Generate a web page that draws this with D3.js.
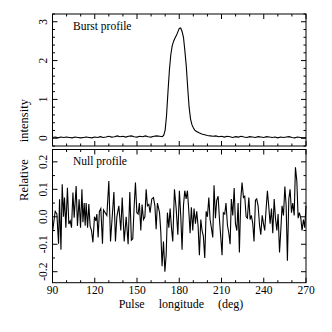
<!DOCTYPE html>
<html><head><meta charset="utf-8">
<script src="https://cdn.jsdelivr.net/npm/d3@7"></script>
<style>body{margin:0;background:#fff}svg{display:block}text{font-family:"Liberation Serif","Times New Roman",serif;fill:#000}</style>
</head><body><svg id="c" width="332" height="332"></svg>
<script>
// ---- data ----
const burstLon = [90,92,94,96,98,100,102,104,106,108,110,112,114,116,118,120,122,124,126,128,130,132,134,136,138,140,142,144,146,148,150,152,154,156,158,160,162,164,166,168,169,170,171,172,173,174,175,176,177,178,179,180,181,182,183,184,185,186,187,188,189,190,191,192,194,196,198,200,202,204,206,208,210,212,214,216,218,220,222,224,226,228,230,232,234,236,238,240,242,244,246,248,250,252,254,256,258,260,262,264,266,268,270];
const burstVal = [0.02,0.03,0.01,0.03,0.02,0.03,0.02,0.01,0.03,0.02,0.01,0.02,0.03,0.02,0.01,0.03,0.02,0.04,0.02,0.03,0.05,0.03,0.04,0.06,0.04,0.05,0.03,0.05,0.06,0.04,0.03,0.05,0.04,0.06,0.04,0.03,0.05,0.06,0.05,0.04,0.08,0.21,0.6,1.2,1.75,2.15,2.38,2.5,2.58,2.65,2.74,2.83,2.84,2.75,2.6,2.25,1.85,1.3,0.8,0.5,0.35,0.27,0.21,0.18,0.14,0.11,0.09,0.07,0.06,0.05,0.06,0.04,0.05,0.03,0.05,0.04,0.02,0.04,0.03,0.05,0.03,0.02,0.04,0.03,0.02,0.04,0.03,0.02,0.04,0.03,0.02,0.03,0.01,0.03,0.02,0.03,0.04,0.02,0.01,0.03,0.02,0.01,0.02];
const nullLon = [90,91.9,93.1,94.3,95,96,96.9,97.8,98.5,99.5,100.6,101.6,102.6,103.5,104.5,105.4,106.8,107.7,108.9,109.9,110.9,111.6,112.5,113.2,113.9,114.9,115.8,116.7,117.7,118.7,119.8,120.8,121.5,122.4,123.3,124.3,125.5,126.2,127.4,128.6,130,131.2,132.4,133.6,134.7,135.7,137.1,138.5,139.5,140.9,142.3,143.7,144.9,146,147,148,148.9,149.9,150.8,151.7,152.7,153.6,154.6,155.6,156.5,157.4,158.4,159.3,160.5,161.7,162.7,163.6,164.5,166,166.9,167.8,168.8,169.8,170.7,171.6,172.6,173.5,174.4,175.4,176.6,177.8,179,180.1,181.1,182,183,183.9,184.9,185.8,186.8,187.7,188.6,189.6,190.5,191.5,192.4,193.4,194.3,195.3,196.2,197.1,198.1,199.1,200,201,201.9,202.8,203.8,204.7,205.7,206.6,207.6,208.5,209.5,210.4,211.3,212.3,213.2,214.2,215.2,216.1,217,218,219,219.9,220.9,221.8,222.7,223.7,224.6,225.6,226.5,227.5,228.4,229.4,230.3,231.2,232.2,233.1,234.1,235,236,237,237.9,238.9,239.8,240.7,241.7,242.6,243.6,244.5,245.5,246.4,247.4,248.3,249.3,250.2,251.2,252.1,253,254,255,255.9,256.8,257.8,258.7,259.7,260.6,261.6,262.5,263.5,264.4,265.3,266.3,267.2,268.2,269.1,270];
const nullVal = [-0.057,0.02,0.01,-0.098,0.064,-0.12,0.118,0.0,0.07,-0.04,0.106,-0.026,-0.015,-0.04,0.088,-0.003,0.112,-0.033,0.064,-0.04,0.1,-0.02,0.05,-0.033,0.05,-0.04,0.046,-0.033,-0.05,-0.093,0.0,-0.015,0.01,-0.075,0.02,0.03,-0.098,0.025,0.015,0.005,0.13,-0.09,0.0,0.09,-0.09,0.0,0.04,-0.05,0.07,-0.09,0.0,-0.1,0.09,-0.085,-0.08,0.04,0.125,0.015,0.01,0.05,-0.05,0.045,-0.01,0.0,0.1,0.04,0.045,0.015,0.065,0.07,0.04,-0.045,0.05,0.015,-0.055,-0.18,-0.09,-0.2,-0.14,0.015,-0.04,0.03,-0.035,-0.09,0.1,0.03,-0.065,0.095,0.0,-0.12,0.04,0.095,0.065,0.095,0.02,-0.06,0.035,-0.05,0.03,-0.025,0.02,-0.035,-0.14,-0.01,-0.05,-0.07,-0.15,0.02,0.0,0.07,-0.01,-0.04,-0.075,0.115,-0.005,0.06,0.075,-0.005,-0.075,-0.14,0.015,0.01,0.05,-0.03,-0.06,-0.1,0.065,0.005,0.105,-0.025,-0.05,0.05,-0.13,0.065,0.125,0.07,0.075,0.0,-0.005,0.07,-0.01,0.005,-0.025,-0.09,0.06,0.065,0.04,-0.03,-0.065,0.005,-0.025,-0.05,0.03,0.095,0.035,-0.025,0.03,-0.06,0.065,-0.005,-0.05,0.01,-0.13,-0.05,0.04,0.005,0.11,0.04,-0.16,0.065,0.1,0.015,0.05,0.005,0.18,0.13,-0.005,0.015,-0.005,-0.05,-0.01,-0.04,0.04];
const xTicks = [90,120,150,180,210,240,270];
const topTicks = [0,1,2,3];
const botTicks = [-0.2,-0.1,0.0,0.1,0.2];
const botTickLabels = ["-0.2","-0.1","0.0","0.1","0.2"];

// ---- layout ----
const svg = d3.select("#c");
const L = 52.5, R = 306;
const x = d3.scaleLinear().domain([90,270]).range([L,R]);
const yT = d3.scaleLinear().domain([-0.2,3.2]).range([146,14]);
const yB = d3.scaleLinear().domain([-0.24,0.245]).range([282.7,149.5]);

function panel(y, major, minorStep, labels){
  const [y0,y1] = y.range();
  const g = svg.append("g");
  const xMinor = d3.range(90,270.01,10);
  xMinor.forEach(v=>{
    const len = (v%30===0)?5:2.5;
    g.append("line").attr("x1",x(v)).attr("x2",x(v)).attr("y1",y0).attr("y2",y0-len).attr("stroke","#000");
    g.append("line").attr("x1",x(v)).attr("x2",x(v)).attr("y1",y1).attr("y2",y1+len).attr("stroke","#000");
  });
  const d = y.domain();
  const start = Math.ceil(d[0]/minorStep-1e-6)*minorStep;
  for(let v=start; v<=d[1]+1e-9; v+=minorStep){
    const isMajor = major.some(m=>Math.abs(m-v)<1e-6);
    const len = isMajor?5:2.5;
    g.append("line").attr("x1",L).attr("x2",L+len).attr("y1",y(v)).attr("y2",y(v)).attr("stroke","#000");
    g.append("line").attr("x1",R).attr("x2",R-len).attr("y1",y(v)).attr("y2",y(v)).attr("stroke","#000");
  }
  major.forEach((v,i)=>{
    g.append("text").attr("transform",`translate(47,${y(v)}) rotate(-90)`)
      .attr("text-anchor","middle").attr("font-size",11.5).text(labels[i]);
  });
  g.append("rect").attr("x",L).attr("y",y1).attr("width",R-L).attr("height",y0-y1)
    .attr("fill","none").attr("stroke","#000").attr("stroke-width",1);
  return g;
}
panel(yT, topTicks, 0.2, topTicks.map(String));
panel(yB, botTicks, 0.05, botTickLabels);

const lineT = d3.line().x((d,i)=>x(burstLon[i])).y(d=>yT(d));
svg.append("path").attr("d",lineT(burstVal)).attr("fill","none").attr("stroke","#000").attr("stroke-width",1.1);
const lineB = d3.line().x((d,i)=>x(nullLon[i])).y(d=>yB(d));
svg.append("path").attr("d",lineB(nullVal)).attr("fill","none").attr("stroke","#000").attr("stroke-width",1.1);

svg.append("text").attr("x",73).attr("y",30).attr("font-size",11.5).text("Burst profile");
svg.append("text").attr("x",73).attr("y",165).attr("font-size",11.5).text("Null profile");

xTicks.forEach(v=>{
  svg.append("text").attr("x",x(v)).attr("y",293.5).attr("text-anchor","middle").attr("font-size",11.5).text(v);
});
svg.append("text").attr("x",181).attr("y",308).attr("text-anchor","middle").attr("font-size",12)
  .style("word-spacing","11px").text("Pulse longitude (deg)");
svg.append("text").attr("transform","translate(28,150) rotate(-90)").attr("text-anchor","middle").attr("font-size",12.5)
  .style("word-spacing","14px").text("Relative intensity");
</script></body></html>
